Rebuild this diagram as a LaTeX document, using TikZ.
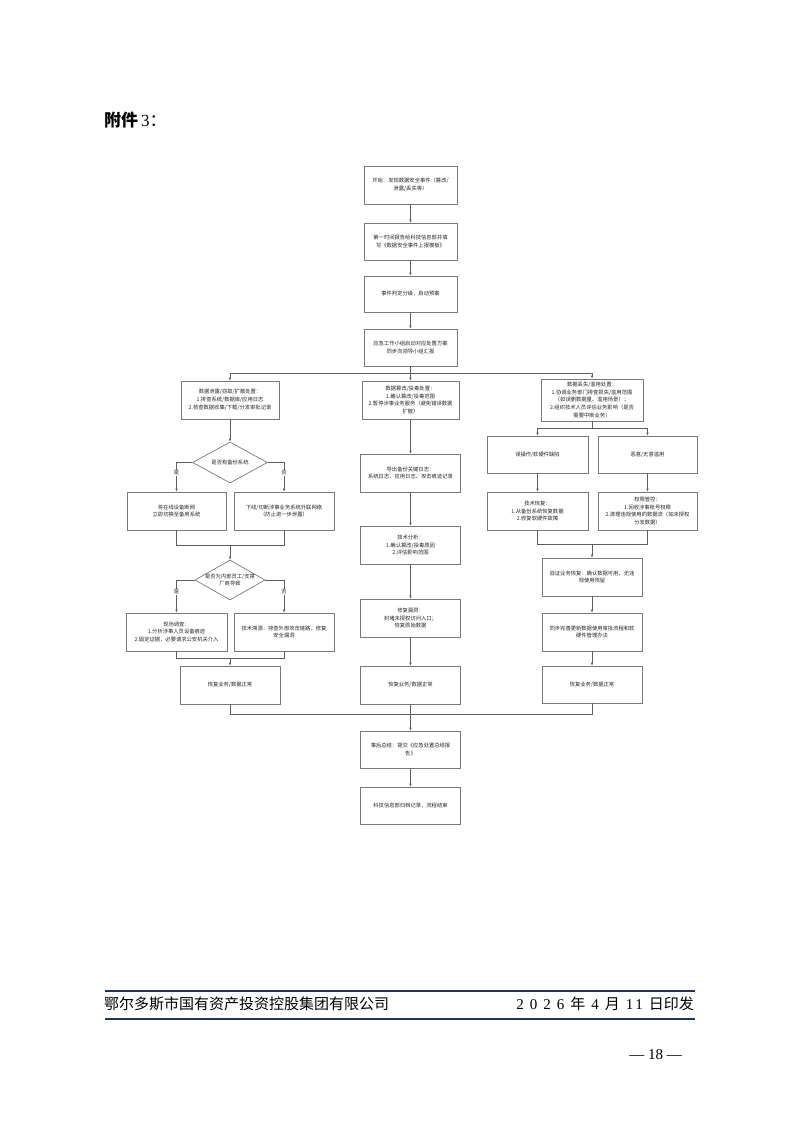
\documentclass[tikz,border=0pt]{standalone}
\usepackage{fontspec}
\setmainfont{Liberation Serif}
\newfontfamily\cjk{Noto Sans CJK SC}
\usetikzlibrary{arrows.meta,shapes.geometric}
\definecolor{boxgray}{HTML}{7A7A7A}
\definecolor{linegray}{HTML}{5E5E5E}
\definecolor{navy}{HTML}{1F3458}
\tikzset{
  box/.style={draw=boxgray, line width=0.7pt, rectangle, inner sep=1pt, align=center,
    font=\cjk\fontsize{5.3}{7.8}\selectfont, text=black!85},
  dia/.style={draw=boxgray, line width=0.7pt, diamond, inner sep=0pt},
  dtxt/.style={align=center, font=\cjk\fontsize{5.3}{7.8}\selectfont, text=black!85, inner sep=0pt},
  ln/.style={draw=linegray, line width=0.6pt},
  arr/.style={ln, -{Latex[length=3pt,width=2.6pt]}},
  yn/.style={font=\cjk\fontsize{5.3}{6}\selectfont, text=black!85, inner sep=0.6pt, fill=white},
}
\begin{document}
\begin{tikzpicture}[x=1pt,y=-1pt]
\path[fill=white,use as bounding box] (0,0) rectangle (794,1123);

% header
\node[anchor=west, inner sep=0pt, font=\fontsize{17}{17}\selectfont] (hdr) at (104,120) {{\cjk\bfseries 附件}\,3{\cjk ：}};

% main column
\node[box, minimum width=93pt, minimum height=38pt] (n1) at (410.5,185) {开始：发现数据安全事件（篡改/\\泄露/丢失等）};
\node[box, minimum width=93pt, minimum height=37pt] (n2) at (410.5,241.5) {第一时间报告给科技信息部并填\\写《数据安全事件上报模板》};
\node[box, minimum width=93pt, minimum height=36pt] (n3) at (410.5,294) {事件判定分级，启动预案};
\node[box, minimum width=93pt, minimum height=37pt] (n4) at (410.5,347.5) {应急工作小组启动对应处置方案\\同步向领导小组汇报};

% three branches
\node[box, minimum width=98pt, minimum height=38pt] (L1) at (230,400) {数据泄露/窃取/扩散处置：\\1.排查系统/数据库/应用日志\\2.核查数据收集/下载/分发审批记录};
\node[box, minimum width=97pt, minimum height=38pt] (M1) at (410.5,400) {数据篡改/投毒处置：\\1.确认篡改/投毒范围\\2.暂停涉事业务服务（避免错误数据\\扩散）};
\node[box, minimum width=102pt, minimum height=42pt] (R1) at (592,400) {数据丢失/滥用处置：\\1.协调业务部门排查损失/滥用范围\\（如误删数据量、滥用场景）；\\2.组织技术人员评估业务影响（是否\\需要中断业务）};

% left branch
\node[dia, minimum width=75pt, minimum height=41pt, label={[dtxt]center:是否有备份系统}] (D1) at (230,462.5) {};
\node[box, minimum width=99pt, minimum height=38pt] (LL1) at (176.5,511) {将在线设备断网\\立即切换至备用系统};
\node[box, minimum width=100pt, minimum height=38pt] (LR1) at (284,511) {下线/切断涉事业务系统外联网络\\（防止进一步泄露）};
\node[dia, minimum width=70pt, minimum height=40pt, label={[dtxt]center:是否为内部员工/支撑\\厂商导致}] (D2) at (230,580) {};
\node[box, minimum width=101pt, minimum height=38pt] (LL2) at (176.5,632) {现场调查：\\1.分析涉事人员设备痕迹\\2.固定证据，必要请求公安机关介入};
\node[box, minimum width=100pt, minimum height=38pt] (LR2) at (284,632) {技术溯源：排查外部攻击链路，修复\\安全漏洞};
\node[box, minimum width=100pt, minimum height=38pt] (L3) at (230,685) {恢复业务/数据正常};

% middle branch
\node[box, minimum width=100pt, minimum height=38pt] (M2) at (410.5,473) {导出备份关键日志：\\系统日志、应用日志、攻击痕迹记录};
\node[box, minimum width=100pt, minimum height=38pt] (M3) at (410.5,545) {技术分析：\\1.确认篡改/投毒原因\\2.评估影响范围};
\node[box, minimum width=100pt, minimum height=38pt] (M4) at (410.5,618) {修复漏洞：\\封堵未授权访问入口；\\恢复原始数据};
\node[box, minimum width=100pt, minimum height=38pt] (M5) at (410.5,685) {恢复业务/数据正常};

% right branch
\node[box, minimum width=101pt, minimum height=37pt] (R2a) at (537.5,454.5) {误操作/软硬件缺陷};
\node[box, minimum width=99pt, minimum height=37pt] (R2b) at (647.5,454.5) {恶意/无意滥用};
\node[box, minimum width=101pt, minimum height=38pt] (R3a) at (537.5,511) {技术恢复：\\1.从备份系统恢复数据\\2.修复软硬件故障};
\node[box, minimum width=99pt, minimum height=38pt] (R3b) at (647.5,511) {权限管控：\\1.回收涉事账号权限\\2.清理违规使用的数据流（如未授权\\分发数据）};
\node[box, minimum width=100pt, minimum height=38pt] (R4) at (592,577) {验证业务恢复：确认数据可用、无违\\规使用残留};
\node[box, minimum width=100pt, minimum height=38pt] (R5) at (592,632) {同步完善更新数据使用审批流程和软\\硬件管理办法};
\node[box, minimum width=100pt, minimum height=37pt] (R6) at (592,684.5) {恢复业务/数据正常};

% bottom
\node[box, minimum width=100pt, minimum height=37pt] (B1) at (410.5,749.5) {事后总结：提交《应急处置总结报\\告》};
\node[box, minimum width=100pt, minimum height=37pt] (B2) at (410.5,805.5) {科技信息部归档记录，流程结束};

% connectors main
\draw[arr] (n1) -- (n2);
\draw[arr] (n2) -- (n3);
\draw[arr] (n3) -- (n4);
\coordinate (s) at (410.5,373);
\draw[ln] (n4.south) -- (s);
\draw[arr] (s) -- (M1.north);
\draw[arr] (s) -| (L1.north);
\draw[arr] (s) -| (R1.north);

% left connectors
\draw[arr] (L1) -- (D1);
\draw[arr] (D1.west) -| (LL1.north) node[yn, pos=0.68] {是};
\draw[arr] (D1.east) -| (LR1.north) node[yn, pos=0.68] {否};
\coordinate (m1) at (230,545);
\draw[ln] (LL1.south) |- (m1);
\draw[ln] (LR1.south) |- (m1);
\draw[arr] (m1) -- (D2.north);
\draw[arr] (D2.west) -| (LL2.north) node[yn, pos=0.68] {是};
\draw[arr] (D2.east) -| (LR2.north) node[yn, pos=0.68] {否};
\coordinate (m2) at (230,658);
\draw[ln] (LL2.south) |- (m2);
\draw[ln] (LR2.south) |- (m2);
\draw[arr] (m2) -- (L3.north);

% middle connectors
\draw[arr] (M1) -- (M2);
\draw[arr] (M2) -- (M3);
\draw[arr] (M3) -- (M4);
\draw[arr] (M4) -- (M5);

% right connectors
\coordinate (rs) at (592,428);
\draw[ln] (R1.south) -- (rs);
\draw[arr] (rs) -| (R2a.north);
\draw[arr] (rs) -| (R2b.north);
\draw[arr] (R2a) -- (R3a);
\draw[arr] (R2b) -- (R3b);
\coordinate (rm) at (592,544);
\draw[ln] (R3a.south) |- (rm);
\draw[ln] (R3b.south) |- (rm);
\draw[arr] (rm) -- (R4.north);
\draw[arr] (R4) -- (R5);
\draw[arr] (R5) -- (R6);

% merge to bottom
\coordinate (mb) at (410.5,714);
\draw[ln] (L3.south) |- (mb);
\draw[ln] (R6.south) |- (mb);
\draw[ln] (M5.south) -- (mb);
\draw[arr] (mb) -- (B1.north);
\draw[arr] (B1) -- (B2);

% footer
\coordinate (fl1a) at (105,991);
\coordinate (fl1b) at (695,991);
\coordinate (fl2a) at (105,1019);
\coordinate (fl2b) at (695,1019);
\draw[navy, line width=1.6pt] (fl1a) -- (fl1b);
\draw[navy, line width=1.6pt] (fl2a) -- (fl2b);
\node[anchor=west, inner sep=0pt, font=\cjk\fontsize{15}{15}\selectfont] (org) at (104,1004) {鄂尔多斯市国有资产投资控股集团有限公司};
\node[anchor=east, inner sep=0pt, font=\fontsize{15}{15}\selectfont] (date) at (694,1004) {\makebox[48pt][s]{2\hfil 0\hfil 2\hfil 6}\hspace{6pt}{\cjk 年}\hspace{6pt}4\hspace{6pt}{\cjk 月}\hspace{6pt}\makebox[17pt][s]{1\hfil 1}\hspace{6pt}{\cjk 日印发}};
\node[anchor=east, inner sep=0pt, font=\fontsize{15}{15}\selectfont] (pg) at (682,1055) {— 18 —};
\end{tikzpicture}
\end{document}
